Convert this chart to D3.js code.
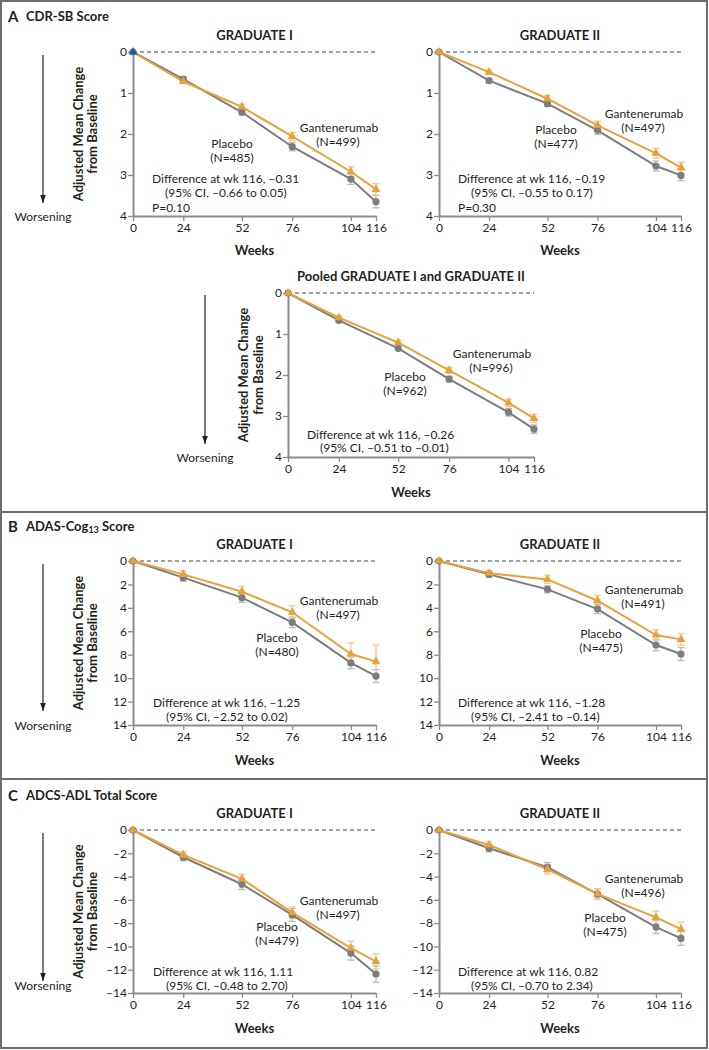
<!DOCTYPE html>
<html><head><meta charset="utf-8">
<script src="https://cdn.jsdelivr.net/npm/d3@7"></script>
<style>
body{margin:0;background:#fff;}
text{font-family:Lato,"Open Sans",sans-serif;fill:#231f20;}
</style></head>
<body><svg id="c" width="709" height="1050"></svg>
<script>
// ---------------- DATA ----------------
const weeks = [0, 24, 52, 76, 104, 116];
const xTickLabels = [0, 24, 52, 76, 104, 116];
const cdrTicks = [0, 1, 2, 3, 4];
const adasTicks = [0, 2, 4, 6, 8, 10, 12, 14];
const adlTicks = [0, -2, -4, -6, -8, -10, -12, -14];

const cdrI_placebo = [0, 0.66, 1.47, 2.31, 3.10, 3.65];
const cdrI_gant    = [0, 0.72, 1.34, 2.06, 2.92, 3.35];
const cdrI_placeboErr = [0, 0.05, 0.07, 0.10, 0.13, 0.15];
const cdrI_gantErr    = [0, 0.05, 0.07, 0.10, 0.12, 0.14];

const cdrII_placebo = [0, 0.70, 1.26, 1.91, 2.78, 3.01];
const cdrII_gant    = [0, 0.49, 1.14, 1.79, 2.47, 2.82];
const cdrII_placeboErr = [0, 0.05, 0.07, 0.10, 0.12, 0.13];
const cdrII_gantErr    = [0, 0.05, 0.08, 0.10, 0.12, 0.13];

const cdrPool_placebo = [0, 0.67, 1.35, 2.10, 2.91, 3.32];
const cdrPool_gant    = [0, 0.60, 1.21, 1.89, 2.68, 3.06];
const cdrPool_placeboErr = [0, 0.04, 0.05, 0.07, 0.09, 0.10];
const cdrPool_gantErr    = [0, 0.04, 0.05, 0.07, 0.09, 0.10];

const adasI_placebo = [0, 1.42, 3.13, 5.24, 8.70, 9.82];
const adasI_gant    = [0, 1.14, 2.62, 4.38, 7.94, 8.59];
const adasI_placeboErr = [0, 0.30, 0.40, 0.45, 0.50, 0.55];
const adasI_gantErr    = [0, 0.30, 0.45, 0.55, 0.95, 1.40];

const adasII_placebo = [0, 1.14, 2.42, 4.10, 7.17, 7.94];
const adasII_gant    = [0, 1.05, 1.57, 3.39, 6.32, 6.69];
const adasII_placeboErr = [0, 0.25, 0.30, 0.40, 0.50, 0.55];
const adasII_gantErr    = [0, 0.25, 0.35, 0.45, 0.45, 0.50];

const adlI_placebo = [0, -2.34, -4.66, -7.29, -10.57, -12.37];
const adlI_gant    = [0, -2.14, -4.20, -7.09, -10.14, -11.29];
const adlI_placeboErr = [0, 0.30, 0.45, 0.55, 0.60, 0.70];
const adlI_gantErr    = [0, 0.30, 0.40, 0.50, 0.60, 0.65];

const adlII_placebo = [0, -1.57, -3.20, -5.51, -8.34, -9.31];
const adlII_gant    = [0, -1.29, -3.37, -5.49, -7.51, -8.51];
const adlII_placeboErr = [0, 0.30, 0.40, 0.45, 0.55, 0.60];
const adlII_gantErr    = [0, 0.30, 0.40, 0.45, 0.55, 0.60];

const sections = [
  {letter: "A", name: "CDR-SB Score", y: 16},
  {letter: "B", name: "ADAS-Cog", sub: "13", after: " Score", y: 526},
  {letter: "C", name: "ADCS-ADL Total Score", y: 795}
];

// ---------------- LAYOUT ----------------
const ORANGE = "#e9a139", ORANGE_L = "#f3c88a";
const GREY = "#7d7d7d", GREY_L = "#b9b9b9";
const AXIS = "#8c8c8c";

function ann(gx, gy, px, py, dx, dy, d1, d2, d3) {
  return {gx, gy, px, py, dx, dy, d1, d2, d3};
}
const panels = [
  {title: "GRADUATE I", x0: 133, x1: 376, y0: 52, y1: 216, dom: [0, 4], ticks: cdrTicks,
   titleY: 35, tickY: 229, weeksY: 250, ylab: [78, 92], arrowX: 43, arrow: [55, 203], worsenY: 216,
   pl: cdrI_placebo, ga: cdrI_gant, plE: cdrI_placeboErr, gaE: cdrI_gantErr, firstBlue: true,
   nG: "(N=499)", nP: "(N=485)",
   a: ann(339, 127, 232, 143, 152, 178, "Difference at wk 116, \u20130.31", "(95% CI, \u20130.66 to 0.05)", "P=0.10")},
  {title: "GRADUATE II", x0: 439, x1: 681, y0: 52, y1: 216, dom: [0, 4], ticks: cdrTicks,
   titleY: 35, tickY: 229, weeksY: 250,
   pl: cdrII_placebo, ga: cdrII_gant, plE: cdrII_placeboErr, gaE: cdrII_gantErr,
   nG: "(N=497)", nP: "(N=477)",
   a: ann(644, 113, 556, 129, 458, 178, "Difference at wk 116, \u20130.19", "(95% CI, \u20130.55 to 0.17)", "P=0.30")},
  {title: "Pooled GRADUATE I and GRADUATE II", x0: 288, x1: 534, y0: 293, y1: 457, dom: [0, 4], ticks: cdrTicks,
   titleY: 276, tickY: 470, weeksY: 492, ylab: [243, 258], arrowX: 205, arrow: [295, 444], worsenY: 457,
   pl: cdrPool_placebo, ga: cdrPool_gant, plE: cdrPool_placeboErr, gaE: cdrPool_gantErr,
   nG: "(N=996)", nP: "(N=962)",
   a: ann(492, 353, 405, 376, 307, 434, "Difference at wk 116, \u20130.26", "(95% CI, \u20130.51 to \u20130.01)", null), lineGap: 13},
  {title: "GRADUATE I", x0: 133, x1: 376, y0: 561, y1: 725, dom: [0, 14], ticks: adasTicks,
   titleY: 544, tickY: 739, weeksY: 760, ylab: [78, 92], arrowX: 43, arrow: [564, 711], worsenY: 725,
   pl: adasI_placebo, ga: adasI_gant, plE: adasI_placeboErr, gaE: adasI_gantErr,
   nG: "(N=497)", nP: "(N=480)",
   a: ann(339, 600, 277, 637, 153, 702, "Difference at wk 116, \u20131.25", "(95% CI, \u20132.52 to 0.02)", null)},
  {title: "GRADUATE II", x0: 439, x1: 681, y0: 561, y1: 725, dom: [0, 14], ticks: adasTicks,
   titleY: 544, tickY: 739, weeksY: 760,
   pl: adasII_placebo, ga: adasII_gant, plE: adasII_placeboErr, gaE: adasII_gantErr,
   nG: "(N=491)", nP: "(N=475)",
   a: ann(644, 589, 601, 633, 458, 702, "Difference at wk 116, \u20131.28", "(95% CI, \u20132.41 to \u20130.14)", null)},
  {title: "GRADUATE I", x0: 133, x1: 376, y0: 830, y1: 993, dom: [0, -14], ticks: adlTicks,
   titleY: 813, tickY: 1007, weeksY: 1028, ylab: [78, 92], arrowX: 43, arrow: [833, 981], worsenY: 985,
   pl: adlI_placebo, ga: adlI_gant, plE: adlI_placeboErr, gaE: adlI_gantErr,
   nG: "(N=497)", nP: "(N=479)",
   a: ann(339, 900, 277, 926, 153, 971, "Difference at wk 116, 1.11", "(95% CI, \u20130.48 to 2.70)", null)},
  {title: "GRADUATE II", x0: 439, x1: 681, y0: 830, y1: 993, dom: [0, -14], ticks: adlTicks,
   titleY: 813, tickY: 1007, weeksY: 1028,
   pl: adlII_placebo, ga: adlII_gant, plE: adlII_placeboErr, gaE: adlII_gantErr,
   nG: "(N=496)", nP: "(N=475)",
   a: ann(644, 878, 605, 917, 458, 971, "Difference at wk 116, 0.82", "(95% CI, \u20130.70 to 2.34)", null)}
];

const svg = d3.select("#c");
svg.append("defs").append("marker").attr("id", "ah").attr("viewBox", "0 0 10 10")
  .attr("refX", 10).attr("refY", 5).attr("markerWidth", 8).attr("markerHeight", 8)
  .attr("markerUnits", "userSpaceOnUse").attr("orient", "auto")
  .append("path").attr("d", "M0,1.5 L10,5 L0,8.5 Z").attr("fill", "#231f20");

// frame
svg.append("rect").attr("x", 1).attr("y", 1).attr("width", 706).attr("height", 1047)
  .attr("fill", "none").attr("stroke", "#6e6e6e").attr("stroke-width", 2);
[512, 779].forEach(y => svg.append("line").attr("x1", 1).attr("x2", 707).attr("y1", y).attr("y2", y)
  .attr("stroke", "#6e6e6e").attr("stroke-width", 2));

// section headers
sections.forEach(s => {
  svg.append("text").attr("x", 8).attr("y", s.y).attr("dominant-baseline", "central")
    .attr("font-size", 15).attr("font-weight", 700).text(s.letter);
  const t = svg.append("text").attr("x", 26).attr("y", s.y).attr("dominant-baseline", "central")
    .attr("font-size", 13).attr("font-weight", 700);
  t.append("tspan").text(s.name);
  if (s.sub) {
    t.append("tspan").attr("font-size", 9).attr("dy", 3).text(s.sub);
    t.append("tspan").attr("dy", -3).text(s.after);
  }
});

const fmt = v => String(v).replace("-", "\u2013");

panels.forEach(p => {
  const x = d3.scaleLinear().domain([0, 116]).range([p.x0, p.x1]);
  const y = d3.scaleLinear().domain(p.dom).range([p.y0, p.y1]);
  const g = svg.append("g");
  const cx = (p.x0 + p.x1) / 2;

  g.append("text").attr("x", cx).attr("y", p.titleY).attr("text-anchor", "middle")
    .attr("dominant-baseline", "central").attr("font-size", 13).attr("font-weight", 700).text(p.title);

  // dashed zero line
  g.append("line").attr("x1", x(0)).attr("x2", x(116)).attr("y1", y(0)).attr("y2", y(0))
    .attr("stroke", "#444").attr("stroke-width", 1).attr("stroke-dasharray", "4,3");

  // axes
  const xa = g.append("g").attr("transform", `translate(0,${p.y1})`)
    .call(d3.axisBottom(x).tickValues(xTickLabels).tickSize(5).tickPadding(2).tickSizeOuter(0));
  const ya = g.append("g").attr("transform", `translate(${p.x0},0)`)
    .call(d3.axisLeft(y).tickValues(p.ticks).tickFormat(fmt).tickSize(5).tickPadding(1).tickSizeOuter(0));
  [xa, ya].forEach(a => {
    a.select(".domain").attr("stroke", AXIS).attr("stroke-width", 2);
    a.selectAll(".tick line").attr("stroke", AXIS).attr("stroke-width", 1.3);
    a.selectAll(".tick text").attr("font-size", 12).attr("font-family", "Lato,sans-serif").attr("fill", "#231f20");
  });

  g.append("text").attr("x", cx).attr("y", p.weeksY).attr("text-anchor", "middle")
    .attr("dominant-baseline", "central").attr("font-size", 13).attr("font-weight", 700).text("Weeks");

  if (p.ylab) {
    const my = (p.y0 + p.y1) / 2;
    ["Adjusted Mean Change", "from Baseline"].forEach((t, i) => {
      g.append("text").attr("transform", `translate(${p.ylab[i]},${my}) rotate(-90)`)
        .attr("text-anchor", "middle").attr("dominant-baseline", "central")
        .attr("font-size", 13).attr("font-weight", 700).text(t);
    });
    g.append("line").attr("x1", p.arrowX).attr("x2", p.arrowX).attr("y1", p.arrow[0]).attr("y2", p.arrow[1])
      .attr("stroke", "#231f20").attr("stroke-width", 1.2).attr("marker-end", "url(#ah)");
    g.append("text").attr("x", p.arrowX).attr("y", p.worsenY).attr("text-anchor", "middle")
      .attr("dominant-baseline", "central").attr("font-size", 12).text("Worsening");
  }

  // series
  const series = [
    {v: p.pl, e: p.plE, c: GREY, cl: GREY_L, shape: "circle"},
    {v: p.ga, e: p.gaE, c: ORANGE, cl: ORANGE_L, shape: "tri"}
  ];
  const line = d3.line().x((d, i) => x(weeks[i])).y(d => y(d));
  series.forEach(s => {
    const eg = g.append("g");
    s.v.forEach((v, i) => {
      if (!s.e[i]) return;
      const X = x(weeks[i]), ya_ = y(v - s.e[i]), yb = y(v + s.e[i]);
      eg.append("line").attr("x1", X).attr("x2", X).attr("y1", ya_).attr("y2", yb).attr("stroke", s.cl).attr("stroke-width", 1.3);
      [ya_, yb].forEach(yy => eg.append("line").attr("x1", X - 3.5).attr("x2", X + 3.5).attr("y1", yy).attr("y2", yy)
        .attr("stroke", s.cl).attr("stroke-width", 1.3));
    });
  });
  series.forEach(s => {
    g.append("path").attr("d", line(s.v)).attr("fill", "none").attr("stroke", s.c).attr("stroke-width", 2);
  });
  series.forEach(s => {
    s.v.forEach((v, i) => {
      const X = x(weeks[i]), Y = y(v);
      let col = s.c;
      if (p.firstBlue && s.shape === "tri" && i === 0) col = "#1f5fa8";
      if (s.shape === "circle") {
        g.append("circle").attr("cx", X).attr("cy", Y).attr("r", 3.6).attr("fill", col);
      } else {
        g.append("path").attr("d", d3.symbol(d3.symbolTriangle, 34)()).attr("transform", `translate(${X},${Y})`).attr("fill", col);
      }
    });
  });

  // annotations
  const a = p.a, gap = p.lineGap || 14.5;
  const txt = (t, xx, yy, anchor) => g.append("text").attr("x", xx).attr("y", yy).attr("text-anchor", anchor)
    .attr("dominant-baseline", "central").attr("font-size", 12).text(t);
  txt("Gantenerumab", a.gx, a.gy, "middle");
  txt(p.nG, a.gx - 1, a.gy + 14.5, "middle");
  txt("Placebo", a.px, a.py, "middle");
  txt(p.nP, a.px, a.py + 14.5, "middle");
  txt(a.d1, a.dx, a.dy, "start");
  txt(a.d2, a.dx + 13, a.dy + gap, "start");
  if (a.d3) txt(a.d3, a.dx, a.dy + 2 * gap, "start");
});
</script>
</body></html>
